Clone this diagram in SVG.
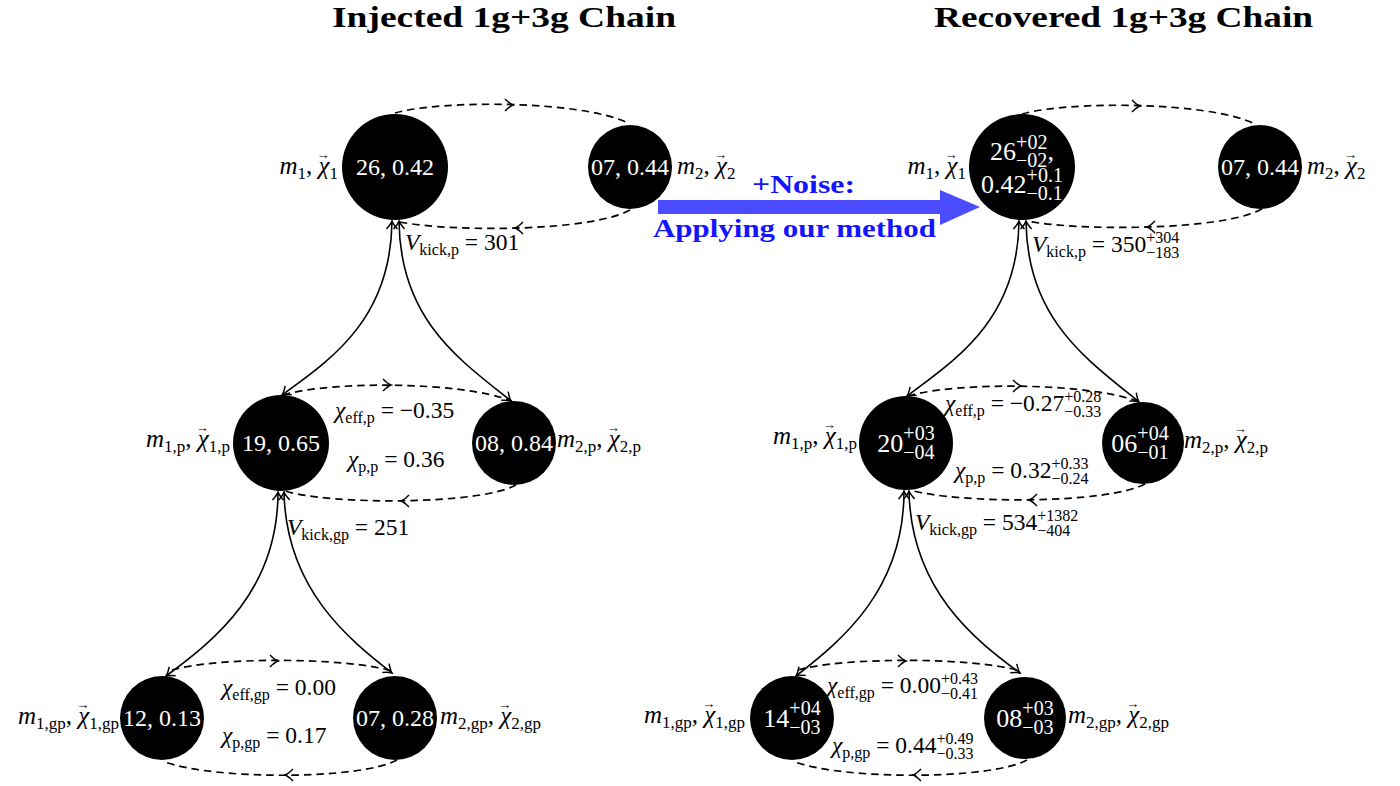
<svg xmlns="http://www.w3.org/2000/svg" width="1400" height="786" viewBox="0 0 1400 786">
<style>
.t{font-family:"Liberation Serif","Times New Roman",serif;fill:#000}
.m{font-size:23.5px}
.ml{font-size:25px}
.i{font-style:italic}
.s{font-size:16px}
.sl{font-size:17px}
.ss{font-size:16px}
.va{font-size:13px;font-style:normal}
.node{fill:#000}
.nt{font-family:"Liberation Serif","Times New Roman",serif;fill:#fff;font-size:24px;text-anchor:middle}
.nb{font-family:"Liberation Serif","Times New Roman",serif;fill:#fff;font-size:26px;text-anchor:middle}
.np{font-size:20px}
.solid{fill:none;stroke:#000;stroke-width:1.6;marker-start:url(#tip);marker-end:url(#tip)}
.dash{fill:none;stroke:#000;stroke-width:1.7;stroke-dasharray:7.5 5}
.chev{fill:none;stroke:#000;stroke-width:1.5}
.title{font-family:"Liberation Serif","Times New Roman",serif;font-weight:bold;font-size:30px;fill:#000}
.blue{font-family:"Liberation Serif","Times New Roman",serif;font-weight:bold;font-size:26px;fill:#1414ff}
</style>
<defs>
<marker id="tip" viewBox="-10 -7 12 14" refX="0" refY="0" markerWidth="12" markerHeight="14" markerUnits="userSpaceOnUse" orient="auto-start-reverse">
<path d="M-8,-5.5 Q-3,-1 0,0 Q-3,1 -8,5.5" fill="none" stroke="#000" stroke-width="1.5"/>
</marker>
<path id="chev" d="M-7,-6 Q-2,-1 1,0 Q-2,1 -7,6" class="chev"/>
</defs>
<rect width="1400" height="786" fill="#fff"/>

<text class="title" x="332" y="27" textLength="344" lengthAdjust="spacingAndGlyphs">Injected 1g+3g Chain</text>
<text class="title" x="934" y="27" textLength="379" lengthAdjust="spacingAndGlyphs">Recovered 1g+3g Chain</text>

<g id="connectors">
<path class="dash" d="M395,113 C440,100 580,100 628,123"/>
<use href="#chev" transform="translate(512,105)"/>
<path class="dash" d="M630,210 C590,232 450,232 400,222"/>
<use href="#chev" transform="translate(516,228) rotate(180)"/>
<path class="dash" d="M283,395 C330,381 460,381 512,401"/>
<use href="#chev" transform="translate(390,385)"/>
<path class="dash" d="M516,485 C480,505 330,505 285,491"/>
<use href="#chev" transform="translate(402,501) rotate(180)"/>
<path class="dash" d="M172,670 C215,657 345,657 392,671"/>
<use href="#chev" transform="translate(277,661)"/>
<path class="dash" d="M397,760 C360,780 215,780 165,762"/>
<use href="#chev" transform="translate(286,775) rotate(180)"/>
<path class="solid" d="M392,221 C391,320 330,360 282,395"/>
<path class="solid" d="M399,221 C400,320 460,360 511,401"/>
<path class="solid" d="M278,492 C278,590 215,640 166,676"/>
<path class="solid" d="M284,492 C286,590 350,640 392,673"/>

<path class="dash" d="M1022,114 C1067,101 1207,101 1255,124"/>
<use href="#chev" transform="translate(1139,106)"/>
<path class="dash" d="M1262,209 C1222,231 1077,231 1027,221"/>
<use href="#chev" transform="translate(1148,227) rotate(180)"/>
<path class="dash" d="M908,396 C955,382 1088,382 1140,402"/>
<use href="#chev" transform="translate(1020,386)"/>
<path class="dash" d="M1145,484 C1108,504 958,504 910,490"/>
<use href="#chev" transform="translate(1030,500) rotate(180)"/>
<path class="dash" d="M798,670 C842,657 975,657 1020,671"/>
<use href="#chev" transform="translate(905,661)"/>
<path class="dash" d="M1027,760 C990,780 845,780 795,762"/>
<use href="#chev" transform="translate(914,775) rotate(180)"/>
<path class="solid" d="M1019,221 C1018,320 955,360 907,396"/>
<path class="solid" d="M1026,221 C1027,320 1088,360 1139,402"/>
<path class="solid" d="M904,491 C904,590 842,640 796,676"/>
<path class="solid" d="M909,491 C911,590 975,640 1020,673"/>
</g>

<g id="noise-arrow">
<path d="M658,200 H940 V190 L980,207 L940,225 V214 H658 Z" fill="#4b4bff"/>
<text class="blue" x="752" y="193" textLength="103" lengthAdjust="spacingAndGlyphs">+Noise:</text>
<text class="blue" x="653" y="237" textLength="283" lengthAdjust="spacingAndGlyphs">Applying our method</text>
</g>

<!-- LEFT PANEL -->
<g id="inj-m1">
<circle class="node" cx="395" cy="167" r="53"/>
<text class="nt" x="395" y="175">26, 0.42</text>
<text class="t ml" x="338" y="174" text-anchor="end"><tspan class="i">m</tspan><tspan class="sl" dy="5">1</tspan><tspan dy="-5">, </tspan><tspan class="i">χ</tspan><tspan class="va" dx="-13" dy="-15">→</tspan><tspan class="sl" dy="20">1</tspan></text>
</g>
<g id="inj-m2">
<circle class="node" cx="630" cy="167" r="42"/>
<text class="nt" x="630" y="175">07, 0.44</text>
<text class="t ml" x="677" y="174"><tspan class="i">m</tspan><tspan class="sl" dy="5">2</tspan><tspan dy="-5">, </tspan><tspan class="i">χ</tspan><tspan class="va" dx="-13" dy="-15">→</tspan><tspan class="sl" dy="20">2</tspan></text>
</g>
<text class="t m" x="405" y="250"><tspan class="i">V</tspan><tspan class="s" dy="5">kick,p</tspan><tspan dy="-5"> = 301</tspan></text>

<g id="inj-m1p">
<circle class="node" cx="281" cy="443" r="48"/>
<text class="nt" x="281" y="451">19, 0.65</text>
<text class="t ml" x="230" y="447" text-anchor="end"><tspan class="i">m</tspan><tspan class="sl" dy="5">1,p</tspan><tspan dy="-5">, </tspan><tspan class="i">χ</tspan><tspan class="va" dx="-13" dy="-15">→</tspan><tspan class="sl" dy="20">1,p</tspan></text>
</g>
<g id="inj-m2p">
<circle class="node" cx="514" cy="443" r="42"/>
<text class="nt" x="514" y="451">08, 0.84</text>
<text class="t ml" x="557" y="447"><tspan class="i">m</tspan><tspan class="sl" dy="5">2,p</tspan><tspan dy="-5">, </tspan><tspan class="i">χ</tspan><tspan class="va" dx="-13" dy="-15">→</tspan><tspan class="sl" dy="20">2,p</tspan></text>
</g>
<text class="t m" x="335" y="418"><tspan class="i">χ</tspan><tspan class="s" dy="5">eff,p</tspan><tspan dy="-5"> = −0.35</tspan></text>
<text class="t m" x="348" y="467"><tspan class="i">χ</tspan><tspan class="s" dy="5">p,p</tspan><tspan dy="-5"> = 0.36</tspan></text>
<text class="t m" x="287" y="535"><tspan class="i">V</tspan><tspan class="s" dy="5">kick,gp</tspan><tspan dy="-5"> = 251</tspan></text>

<g id="inj-m1gp">
<circle class="node" cx="162" cy="718" r="42"/>
<text class="nt" x="162" y="726">12, 0.13</text>
<text class="t ml" x="119" y="724" text-anchor="end"><tspan class="i">m</tspan><tspan class="sl" dy="5">1,gp</tspan><tspan dy="-5">, </tspan><tspan class="i">χ</tspan><tspan class="va" dx="-13" dy="-15">→</tspan><tspan class="sl" dy="20">1,gp</tspan></text>
</g>
<g id="inj-m2gp">
<circle class="node" cx="395" cy="718" r="42"/>
<text class="nt" x="395" y="726">07, 0.28</text>
<text class="t ml" x="440" y="724"><tspan class="i">m</tspan><tspan class="sl" dy="5">2,gp</tspan><tspan dy="-5">, </tspan><tspan class="i">χ</tspan><tspan class="va" dx="-13" dy="-15">→</tspan><tspan class="sl" dy="20">2,gp</tspan></text>
</g>
<text class="t m" x="222" y="695"><tspan class="i">χ</tspan><tspan class="s" dy="5">eff,gp</tspan><tspan dy="-5"> = 0.00</tspan></text>
<text class="t m" x="222" y="743"><tspan class="i">χ</tspan><tspan class="s" dy="5">p,gp</tspan><tspan dy="-5"> = 0.17</tspan></text>

<!-- RIGHT PANEL -->
<g id="rec-m1">
<circle class="node" cx="1022" cy="167" r="53"/>
<text class="nb" x="1022" y="160">26<tspan class="np" dy="-11">+02</tspan><tspan class="np" dx="-31.3" dy="18">−02</tspan><tspan dy="-7">,</tspan></text>
<text class="nb" x="1022" y="193">0.42<tspan class="np" dy="-11">+0.1</tspan><tspan class="np" dx="-36.3" dy="18">−0.1</tspan></text>
<text class="t ml" x="966" y="174" text-anchor="end"><tspan class="i">m</tspan><tspan class="sl" dy="5">1</tspan><tspan dy="-5">, </tspan><tspan class="i">χ</tspan><tspan class="va" dx="-13" dy="-15">→</tspan><tspan class="sl" dy="20">1</tspan></text>
</g>
<g id="rec-m2">
<circle class="node" cx="1260" cy="167" r="42"/>
<text class="nt" x="1260" y="175">07, 0.44</text>
<text class="t ml" x="1307" y="174"><tspan class="i">m</tspan><tspan class="sl" dy="5">2</tspan><tspan dy="-5">, </tspan><tspan class="i">χ</tspan><tspan class="va" dx="-13" dy="-15">→</tspan><tspan class="sl" dy="20">2</tspan></text>
</g>
<text class="t m" x="1032" y="252"><tspan class="i">V</tspan><tspan class="s" dy="5">kick,p</tspan><tspan dy="-5"> = 350</tspan><tspan class="ss" dy="-9">+304</tspan><tspan class="ss" dx="-33" dy="15">−183</tspan></text>

<g id="rec-m1p">
<circle class="node" cx="906" cy="443" r="47"/>
<text class="nb" x="906" y="452">20<tspan class="np" dy="-12">+03</tspan><tspan class="np" dx="-31.3" dy="19">−04</tspan></text>
<text class="t ml" x="857" y="444" text-anchor="end"><tspan class="i">m</tspan><tspan class="sl" dy="5">1,p</tspan><tspan dy="-5">, </tspan><tspan class="i">χ</tspan><tspan class="va" dx="-13" dy="-15">→</tspan><tspan class="sl" dy="20">1,p</tspan></text>
</g>
<g id="rec-m2p">
<circle class="node" cx="1143" cy="443" r="41"/>
<text class="nb" x="1140" y="452">06<tspan class="np" dy="-12">+04</tspan><tspan class="np" dx="-31.3" dy="19">−01</tspan></text>
<text class="t ml" x="1184" y="448"><tspan class="i">m</tspan><tspan class="sl" dy="5">2,p</tspan><tspan dy="-5">, </tspan><tspan class="i">χ</tspan><tspan class="va" dx="-13" dy="-15">→</tspan><tspan class="sl" dy="20">2,p</tspan></text>
</g>
<text class="t m" x="945" y="411"><tspan class="i">χ</tspan><tspan class="s" dy="5">eff,p</tspan><tspan dy="-5"> = −0.27</tspan><tspan class="ss" dy="-9">+0.28</tspan><tspan class="ss" dx="-37" dy="15">−0.33</tspan></text>
<text class="t m" x="955" y="478"><tspan class="i">χ</tspan><tspan class="s" dy="5">p,p</tspan><tspan dy="-5"> = 0.32</tspan><tspan class="ss" dy="-9">+0.33</tspan><tspan class="ss" dx="-37" dy="15">−0.24</tspan></text>
<text class="t m" x="915" y="530"><tspan class="i">V</tspan><tspan class="s" dy="5">kick,gp</tspan><tspan dy="-5"> = 534</tspan><tspan class="ss" dy="-9">+1382</tspan><tspan class="ss" dx="-41" dy="15">−404</tspan></text>

<g id="rec-m1gp">
<circle class="node" cx="792" cy="718" r="42"/>
<text class="nb" x="792" y="727">14<tspan class="np" dy="-12">+04</tspan><tspan class="np" dx="-31.3" dy="19">−03</tspan></text>
<text class="t ml" x="745" y="723" text-anchor="end"><tspan class="i">m</tspan><tspan class="sl" dy="5">1,gp</tspan><tspan dy="-5">, </tspan><tspan class="i">χ</tspan><tspan class="va" dx="-13" dy="-15">→</tspan><tspan class="sl" dy="20">1,gp</tspan></text>
</g>
<g id="rec-m2gp">
<circle class="node" cx="1025" cy="718" r="41"/>
<text class="nb" x="1025" y="727">08<tspan class="np" dy="-12">+03</tspan><tspan class="np" dx="-31.3" dy="19">−03</tspan></text>
<text class="t ml" x="1068" y="723"><tspan class="i">m</tspan><tspan class="sl" dy="5">2,gp</tspan><tspan dy="-5">, </tspan><tspan class="i">χ</tspan><tspan class="va" dx="-13" dy="-15">→</tspan><tspan class="sl" dy="20">2,gp</tspan></text>
</g>
<text class="t m" x="827" y="693"><tspan class="i">χ</tspan><tspan class="s" dy="5">eff,gp</tspan><tspan dy="-5"> = 0.00</tspan><tspan class="ss" dy="-9">+0.43</tspan><tspan class="ss" dx="-37" dy="15">−0.41</tspan></text>
<text class="t m" x="832" y="753"><tspan class="i">χ</tspan><tspan class="s" dy="5">p,gp</tspan><tspan dy="-5"> = 0.44</tspan><tspan class="ss" dy="-9">+0.49</tspan><tspan class="ss" dx="-37" dy="15">−0.33</tspan></text>
</svg>
